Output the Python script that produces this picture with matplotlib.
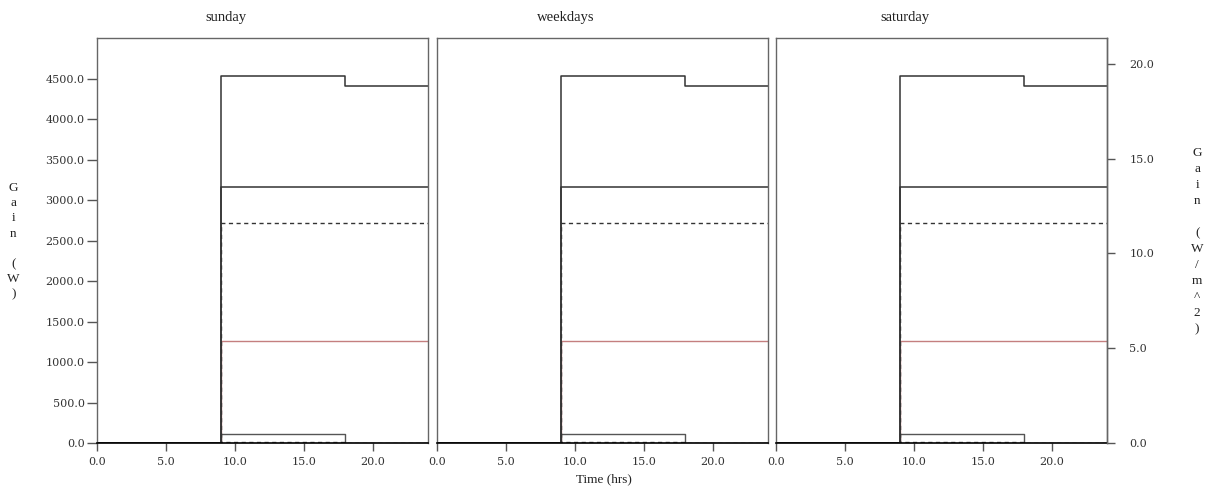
import matplotlib.pyplot as plt
import numpy as np

# schedule breakpoints (hrs) and gains (W) per interval, last value repeated for steps-post
hours = [0, 9, 18, 24]
total_gain = [0, 4540, 4410, 4410]
occupant_gain = [0, 3160, 3160, 3160]
equip_gain = [0, 2720, 2720, 2720]
light_gain = [0, 1260, 1260, 1260]
small_gain = [0, 115, 0, 0]
latent_gain = [0, 8, 0, 0]

day_names = ["sunday", "weekdays", "saturday"]
floor_area = 234.3  # m^2, for the W/m^2 axis

x_ticks = [0, 5, 10, 15, 20]
y_ticks = [0, 500, 1000, 1500, 2000, 2500, 3000, 3500, 4000, 4500]
y2_ticks = [0, 5, 10, 15, 20]
y_max = 5006

plt.rcParams["font.family"] = ["DejaVu Serif"]
fig = plt.figure(figsize=(12.08, 4.92), dpi=100)

lefts = [0.0803, 0.3618, 0.6424]
# drawn bottom-up so the dark total line covers the shared vertical at 9h
series = [
    (latent_gain, "#555555", (0, (3, 2.5)), 1.0),
    (light_gain, "#c47f7f", "-", 1.0),
    (small_gain, "#555555", "-", 1.0),
    (equip_gain, "#333333", (0, (3, 2.5)), 1.0),
    (occupant_gain, "#333333", "-", 1.1),
    (total_gain, "#333333", "-", 1.1),
]

for i, (left, name) in enumerate(zip(lefts, day_names)):
    ax = fig.add_axes([left, 0.0996, 0.274, 0.8232])
    for vals, col, ls, lw in series:
        ax.plot(hours, vals, drawstyle="steps-post", color=col, ls=ls, lw=lw)
    ax.set_xlim(0, 24)
    ax.set_ylim(0, y_max)
    ax.set_xticks(x_ticks)
    ax.set_xticklabels([f"{v:.1f}" for v in x_ticks], fontsize=8, color="#333333")
    ax.tick_params(axis="x", direction="out", length=6, width=1, color="#555555", pad=4)
    for s in ["top", "left", "right"]:
        ax.spines[s].set_color("#666666")
        ax.spines[s].set_linewidth(1.0)
    ax.spines["bottom"].set_color("black")
    ax.spines["bottom"].set_linewidth(1.2)
    ax.text(0.39, 1.035, name, transform=ax.transAxes, ha="center", va="bottom",
            fontsize=10.5, color="#222222", family="Liberation Serif")
    if i == 0:
        ax.set_yticks(y_ticks)
        ax.set_yticklabels([f"{v:.1f}" for v in y_ticks], fontsize=8, color="#333333")
        ax.tick_params(axis="y", direction="out", length=7, width=1, color="#555555", pad=2)
    else:
        ax.set_yticks([])
    if i == 2:
        ax2 = ax.twinx()
        ax2.set_ylim(0, y_max / floor_area)
        ax2.set_yticks(y2_ticks)
        ax2.set_yticklabels([f"{v:.1f}" for v in y2_ticks], fontsize=8, color="#333333")
        ax2.tick_params(axis="y", direction="out", length=6, width=1, color="#555555", pad=10)
        for s in ["top", "left", "bottom"]:
            ax2.spines[s].set_visible(False)
        ax2.spines["right"].set_color("#666666")
        ax2.spines["right"].set_linewidth(1.0)

fig.text(0.5, 0.025, "Time (hrs)", ha="center", va="center", fontsize=9.5,
         family="Liberation Serif", color="#222222")
fig.text(0.011, 0.51, "G\na\ni\nn\n\n(\nW\n)", ha="center", va="center", fontsize=9.5,
         family="Liberation Serif", color="#222222", linespacing=1.35)
fig.text(0.991, 0.51, "G\na\ni\nn\n\n(\nW\n/\nm\n^\n2\n)", ha="center", va="center", fontsize=9.5,
         family="Liberation Serif", color="#222222", linespacing=1.45)

fig.savefig("out.png", dpi=100)
